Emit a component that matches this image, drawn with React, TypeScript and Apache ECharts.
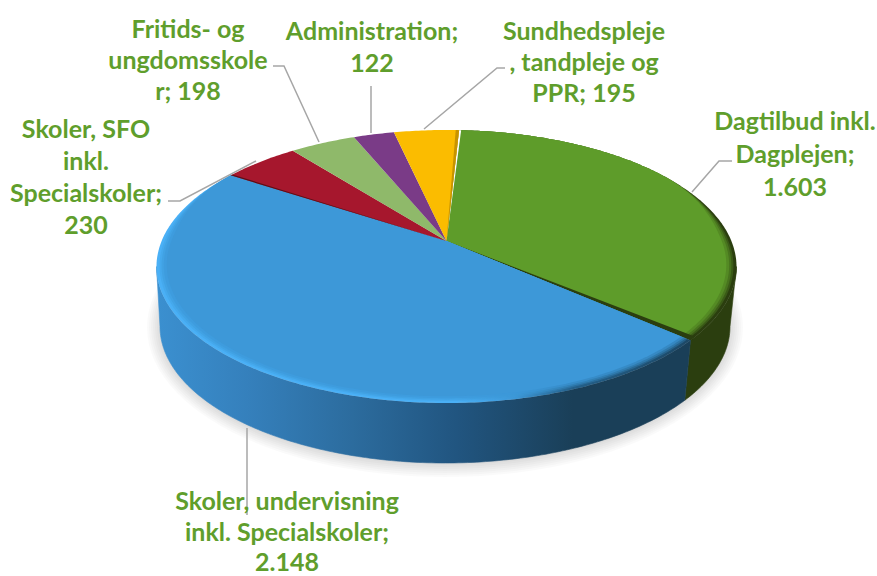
import React, { useEffect, useRef } from "react";
import * as echarts from "echarts";

const categories = [
  "Dagtilbud inkl. Dagplejen",
  "Skoler, undervisning inkl. Specialskoler",
  "Skoler, SFO inkl. Specialskoler",
  "Fritids- og ungdomsskoler",
  "Administration",
  "Sundhedspleje, tandpleje og PPR",
];
const values = [1603, 2148, 230, 198, 122, 195];
const valueLabels = ["1.603", "2.148", "230", "198", "122", "195"];
const wrappedNames = [
  "Dagtilbud inkl.\nDagplejen;\n",
  "Skoler, undervisning\ninkl. Specialskoler;\n",
  "Skoler, SFO\ninkl.\nSpecialskoler;\n",
  "Fritids- og\nungdomsskole\nr; ",
  "Administration;\n",
  "Sundhedspleje\n, tandpleje og\nPPR; ",
];
const faceColors = ["#5e9c2a", "#3d98d8", "#a6172d", "#8fb96a", "#7a3b87", "#fbbc00"];

const labelAnchors = [
  [795, 120],
  [287, 500],
  [86, 128],
  [188, 28],
  [372, 30],
  [584, 30],
];
const labelSteps = [33, 30.5, 32, 31, 32, 31];
const leaderLines = [
  [[692, 192], [719, 161], [732, 161]],
  [[247, 428], [247, 515]],
  [[168, 201], [180, 201], [256, 161]],
  [[273, 66], [284, 66], [319, 142]],
  [[371, 86], [371, 133]],
  [[424, 129], [497, 68], [505, 68]],
];

const START_ANGLE = 3.0;
const CX = 446.5;
const CY = 266.5;
const RX = 290;
const RY = 136.5;
const PERSPECTIVE = -0.187;
const BOTTOM = { cx: 445, cy: 326.5, rx: 285, ry: 136.5 };
const TOTAL = values.reduce((a, b) => a + b, 0);
const SHADOW_RINGS = [13, 11, 9, 7, 5, 3, 1];

const project = (deg: number, r: number, e = { cx: CX, cy: CY, rx: RX, ry: RY }) => {
  const t = (deg * Math.PI) / 180;
  const u = r * Math.sin(t);
  const v = -r * Math.cos(t);
  const a = PERSPECTIVE;
  const d = 1 + a * v;
  return [e.cx + (e.rx * u * Math.sqrt(1 - a * a)) / d, e.cy + (e.ry * (v + a)) / d];
};

const rimWidth = (deg: number) => {
  let n = ((deg + 180) % 360 + 360) % 360 - 180;
  n = Math.abs(n);
  const s = Math.min(1, Math.max(0, (n - 56) / 34));
  return 0.034 * s * s * (3 - 2 * s);
};

const wedge = (a0: number, a1: number, frac: number) => {
  const pts: number[][] = [project(0, 0)];
  const n = Math.max(2, Math.ceil((a1 - a0) / 0.75));
  for (let i = 0; i <= n; i++) {
    const a = a0 + ((a1 - a0) * i) / n;
    pts.push(project(a, 1 - rimWidth(a) * frac));
  }
  return pts;
};

const wall = (a0: number, a1: number) => {
  const top: number[][] = [];
  const bottom: number[][] = [];
  const n = Math.max(2, Math.ceil((a1 - a0) / 0.75));
  for (let i = 0; i <= n; i++) {
    const a = a0 + ((a1 - a0) * i) / n;
    top.push(project(a, 1));
    bottom.push(project(a, 1, BOTTOM));
  }
  return [...top, ...bottom.reverse()];
};

const grad = (stops: [number, string][]) => ({
  type: "linear",
  x: 155,
  y: 0,
  x2: 735,
  y2: 0,
  global: true,
  colorStops: stops.map(([offset, color]) => ({ offset, color })),
});

const blueWall = grad([
  [0, "#3b90d0"],
  [0.16, "#3580bc"],
  [0.34, "#2c6c9e"],
  [0.52, "#215580"],
  [0.72, "#1a3f58"],
  [1, "#1a3f58"],
]);
const blueBevel = grad([
  [0, "#4ab0f6"],
  [0.52, "#4ab0f6"],
  [0.62, "#3d98d8"],
  [0.72, "#24608a"],
  [1, "#1a3f58"],
]);
const bevels: any[] = ["#2b3e0f", blueBevel, null, null, null, null];
const walls: any[] = ["#2b3e0f", blueWall, "#6e0f1e", "#5e7c40", "#4f2658", "#a87f00"];
const startEdges: any[] = [[0.5, "#ffffff"], null, [0.55, "#5a0f18"], null, null, null];
const endEdges: any[] = [[1.6, "#2b3e0f"], null, null, null, null, [0.8, "#c79300"]];

const VIS_FROM = 100.8;
const VIS_TO = 259.2;

const renderSlice = (params: any, api: any) => {
  const i = params.dataIndex;
  let before = 0;
  for (let k = 0; k < i; k++) before += values[k];
  const a0 = START_ANGLE + (before / TOTAL) * 360;
  const a1 = a0 + (api.value(0) / TOTAL) * 360;
  const children: any[] = [];
  if (i === 0) {
    SHADOW_RINGS.forEach((k) => {
      children.push({
        type: "ellipse",
        shape: { cx: BOTTOM.cx, cy: BOTTOM.cy + 1, rx: BOTTOM.rx + k, ry: BOTTOM.ry + k },
        style: { fill: "rgba(0,0,0,0.02)" },
      });
    });
  }
  const w0 = Math.max(a0, VIS_FROM);
  const w1 = Math.min(a1, VIS_TO);
  if (w1 > w0) {
    children.push({
      type: "polygon",
      shape: { points: wall(w0, w1) },
      style: { fill: walls[i], stroke: walls[i], lineWidth: 0.6 },
    });
  }
  const face = faceColors[i];
  if (bevels[i]) {
    children.push({ type: "polygon", shape: { points: wedge(a0, a1, 0) }, style: { fill: bevels[i] } });
    [
      [0.3, 0.3],
      [0.5, 0.4],
      [0.72, 0.55],
      [1, 1],
    ].forEach(([frac, opacity]) => {
      children.push({
        type: "polygon",
        shape: { points: wedge(a0, a1, frac) },
        style: { fill: face, opacity },
      });
    });
  } else {
    children.push({ type: "polygon", shape: { points: wedge(a0, a1, 0) }, style: { fill: face } });
  }
  if (startEdges[i]) {
    const [w, c] = startEdges[i];
    children.push({ type: "polygon", shape: { points: wedge(a0, a0 + w, 0) }, style: { fill: c } });
  }
  if (endEdges[i]) {
    const [w, c] = endEdges[i];
    children.push({ type: "polygon", shape: { points: wedge(a1 - w, a1, 0) }, style: { fill: c } });
  }
  return { type: "group", children };
};

export default function App() {
  const ref = useRef<HTMLDivElement>(null);
  useEffect(() => {
    const chart = echarts.init(ref.current!, undefined, { renderer: "svg" });
    const labelTexts = wrappedNames.flatMap((name, i) =>
      (name + valueLabels[i]).split("\n").map((line, j) => ({
        type: "text",
        z: 6,
        x: labelAnchors[i][0],
        y: labelAnchors[i][1] + j * labelSteps[i],
        style: {
          text: line,
          fill: "#5f9e2c",
          font: 'bold 25px Lato, "Open Sans", sans-serif',
          align: "center",
          verticalAlign: "middle",
          lineHeight: 20,
        },
      }))
    );
    chart.setOption({
      animation: false,
      backgroundColor: "#ffffff",
      series: [
        {
          type: "custom",
          coordinateSystem: "none",
          renderItem: renderSlice,
          clip: false,
          data: values.map((v, i) => ({ name: categories[i], value: [v] })),
        },
      ],
      graphic: [
        ...leaderLines.map((points) => ({
          type: "polyline",
          z: 5,
          shape: { points },
          style: { stroke: "#a6a6a6", lineWidth: 1.5, fill: "none" },
        })),
        ...labelTexts,
      ],
    });
    return () => chart.dispose();
  }, []);
  return (
    <div
      ref={ref}
      style={{ position: "absolute", left: 0, top: 0, width: 877, height: 576 }}
    />
  );
}
